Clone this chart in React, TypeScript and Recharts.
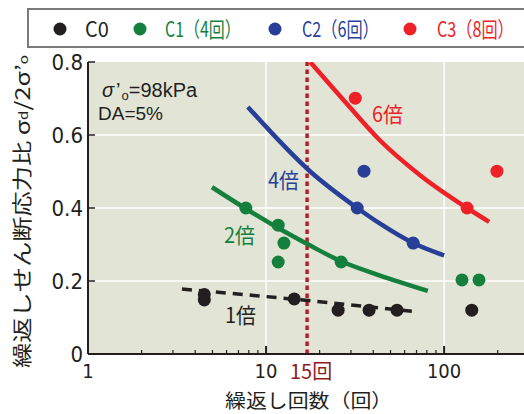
import {
  ComposedChart,
  Line,
  Scatter,
  XAxis,
  YAxis,
  ReferenceLine,
  ReferenceArea,
} from "recharts";

// measured points [cycles, stress ratio]
const c0Points = [[4.5, 0.163], [4.5, 0.148], [14.4, 0.151], [25.4, 0.12], [37.9, 0.12], [54.4, 0.12], [143, 0.12]];
const c1Points = [[7.7, 0.4], [11.7, 0.353], [12.6, 0.304], [11.7, 0.252], [26.4, 0.252], [126, 0.203], [157, 0.203]];
const c2Points = [[35.5, 0.501], [32.5, 0.4], [67, 0.304]];
const c3Points = [[31.7, 0.701], [198, 0.501], [134.6, 0.4]];

// curves
const curve1 = [[3.37, 0.178], [14.4, 0.15], [71.5, 0.115]];
const curve2 = [[4.97, 0.457], [7.7, 0.398], [11.7, 0.345], [17.7, 0.297], [26.4, 0.254], [43.7, 0.215], [81, 0.173]];
const curve4 = [[7.9, 0.677], [17.7, 0.5], [32.5, 0.4], [43.7, 0.357], [67, 0.304], [100, 0.27]];
const curve6 = [[17.7, 0.8], [28.5, 0.685], [43.7, 0.585], [73.3, 0.49], [134.6, 0.4], [179, 0.362]];

const xTicks = [1, 2, 3, 4, 5, 6, 7, 8, 9, 10, 20, 30, 40, 50, 60, 70, 80, 90, 100, 200];
const xLabels = [1, 10, 100];
const yTicks = [0, 0.2, 0.4, 0.6, 0.8];
const yLabels = ["0", "0.2", "0.4", "0.6", "0.8"];
const refCycles = 17; // dotted line as drawn (labelled 15回)

const BLACK = "#231f20";
const GREEN = "#15803d";
const BLUE = "#283f99";
const RED = "#ee2128";
const DARKRED = "#b31e27";

const NUM_FONT = "'Liberation Sans Narrow', 'DejaVu Sans Condensed', 'Noto Sans CJK JP', sans-serif";
const JP_FONT = "'Noto Sans CJK JP', sans-serif";

const toXY = (pts: number[][]) => pts.map(([n, r]) => ({ n, r }));

function BottomTick(props: any) {
  const { x, y, payload } = props;
  const v = payload.value;
  const major = xLabels.includes(v);
  return (
    <g>
      <line x1={x} x2={x} y1={y} y2={y - (major ? 8 : 4)} stroke={BLACK} strokeWidth={major ? 2 : 1.2} />
      {major && (
        <text x={x} y={y + 24} textAnchor="middle" fontSize={20} fontFamily={NUM_FONT} fill={BLACK}>
          {v}
        </text>
      )}
    </g>
  );
}

function TopTick(props: any) {
  const { x, y, payload } = props;
  const major = xLabels.includes(payload.value);
  return <line x1={x} x2={x} y1={y} y2={y + (major ? 8 : 4)} stroke={BLACK} strokeWidth={major ? 2 : 1.2} />;
}

function LeftTick(props: any) {
  const { x, y, payload } = props;
  const i = yTicks.indexOf(payload.value);
  return (
    <g>
      <line x1={x} x2={x + 7} y1={y} y2={y} stroke={BLACK} strokeWidth={1.5} />
      <text x={x - 5} y={y + 8} textAnchor="end" fontSize={22} fontFamily={NUM_FONT} fill={BLACK}>
        {yLabels[i]}
      </text>
    </g>
  );
}

function RightTick(props: any) {
  const { x, y } = props;
  return <line x1={x} x2={x - 7} y1={y} y2={y} stroke={BLACK} strokeWidth={1.5} />;
}

const dot = (color: string) => (p: any) => <circle cx={p.cx} cy={p.cy} r={6.5} fill={color} />;

const legendItems = [
  { label: "C0", color: BLACK, dx: 60, tx: 85, sx: 0.95 },
  { label: "C1（4回）", color: GREEN, dx: 140, tx: 165, sx: 0.76 },
  { label: "C2（6回）", color: BLUE, dx: 275, tx: 302, sx: 0.77 },
  { label: "C3（8回）", color: RED, dx: 410, tx: 437, sx: 0.77 },
];

function JText({ x, y, sx, size, color, children }: any) {
  return (
    <text transform={`translate(${x} ${y}) scale(${sx} 1)`} fontSize={size} fontFamily={JP_FONT} fill={color}>
      {children}
    </text>
  );
}

export default function App() {
  return (
    <div style={{ position: "absolute", left: 0, top: 0, width: 524, height: 414, background: "#fff", overflow: "hidden" }}>
      <ComposedChart width={524} height={414} margin={{ top: 62, right: 0, bottom: 0, left: 0 }}>
        <XAxis
          dataKey="n"
          type="number"
          scale="log"
          domain={[1, 281]}
          allowDataOverflow
          ticks={xTicks}
          interval={0}
          height={60}
          tickSize={0}
          tickMargin={0}
          tickLine={false}
          tick={BottomTick}
          axisLine={{ stroke: BLACK, strokeWidth: 2 }}
        />
        <XAxis
          xAxisId="top"
          orientation="top"
          type="number"
          scale="log"
          domain={[1, 281]}
          allowDataOverflow
          ticks={xTicks}
          interval={0}
          height={0}
          tickSize={0}
          tickMargin={0}
          tickLine={false}
          tick={TopTick}
          axisLine={{ stroke: BLACK, strokeWidth: 2 }}
        />
        <YAxis
          dataKey="r"
          type="number"
          domain={[0, 0.8]}
          allowDataOverflow
          ticks={yTicks}
          interval={0}
          width={88}
          tickSize={0}
          tickMargin={0}
          tickLine={false}
          tick={LeftTick}
          axisLine={{ stroke: BLACK, strokeWidth: 2 }}
        />
        <YAxis
          yAxisId="right"
          orientation="right"
          type="number"
          domain={[0, 0.8]}
          ticks={[0.2, 0.4, 0.6]}
          interval={0}
          width={0}
          tickSize={0}
          tickMargin={0}
          tickLine={false}
          tick={RightTick}
          axisLine={false}
        />
        <ReferenceArea x1={1} x2={281} y1={0} y2={0.8} fill="#e2e5d6" fillOpacity={1} stroke="none" />
        {[0.2, 0.4, 0.6].map((v) => (
          <ReferenceLine key={"h" + v} y={v} stroke="#ffffff" strokeWidth={1.5} />
        ))}
        {[10, 100].map((v) => (
          <ReferenceLine key={"v" + v} x={v} stroke="#ffffff" strokeWidth={1.5} />
        ))}
        <ReferenceLine x={refCycles} stroke={DARKRED} strokeWidth={3.5} strokeDasharray="4.5 3.5" />

        <Line data={toXY(curve1)} dataKey="r" type="monotone" stroke={BLACK} strokeWidth={3.5} strokeDasharray="10 7" dot={false} isAnimationActive={false} />
        <Line data={toXY(curve2)} dataKey="r" type="monotone" stroke={GREEN} strokeWidth={4.5} dot={false} isAnimationActive={false} />
        <Line data={toXY(curve4)} dataKey="r" type="monotone" stroke={BLUE} strokeWidth={4.5} dot={false} isAnimationActive={false} />
        <Line data={toXY(curve6)} dataKey="r" type="monotone" stroke={RED} strokeWidth={4.5} dot={false} isAnimationActive={false} />

        <Scatter data={toXY(c0Points)} dataKey="r" shape={dot(BLACK)} isAnimationActive={false} />
        <Scatter data={toXY(c1Points)} dataKey="r" shape={dot(GREEN)} isAnimationActive={false} />
        <Scatter data={toXY(c2Points)} dataKey="r" shape={dot(BLUE)} isAnimationActive={false} />
        <Scatter data={toXY(c3Points)} dataKey="r" shape={dot(RED)} isAnimationActive={false} />
      </ComposedChart>

      <svg width={524} height={414} style={{ position: "absolute", left: 0, top: 0, pointerEvents: "none" }}>
        <rect x={28} y={9} width={510} height={38} fill="#fff" stroke="#7a7a7a" strokeWidth={2} />
        {legendItems.map((it) => (
          <g key={it.label}>
            <circle cx={it.dx} cy={29} r={6.5} fill={it.color} />
            <JText x={it.tx} y={37} sx={it.sx} size={21} color={it.color}>
              {it.label}
            </JText>
          </g>
        ))}

        <text x={102} y={97} fontSize={20} fontFamily="'Liberation Sans', Arial, sans-serif" fill={BLACK}>
          <tspan fontStyle="italic">σ</tspan>
          <tspan dx={2}>’</tspan>
          <tspan fontSize={13} dy={3} dx={1}>o</tspan>
          <tspan dy={-3}>=98kPa</tspan>
        </text>
        <text x={98} y={120} fontSize={19} fontFamily="'Liberation Sans', Arial, sans-serif" fill={BLACK}>
          DA=5%
        </text>

        <JText x={372} y={122} sx={0.95} size={21} color={RED}>6倍</JText>
        <JText x={268} y={188} sx={0.95} size={21} color={BLUE}>4倍</JText>
        <JText x={224} y={243} sx={0.95} size={21} color={GREEN}>2倍</JText>
        <JText x={225} y={323} sx={0.95} size={21} color={BLACK}>1倍</JText>

        <JText x={290} y={379} sx={1} size={20} color="#8b1c24">15回</JText>
        <JText x={225} y={408} sx={1.1} size={19} color={BLACK}>繰返し回数（回）</JText>

        <g transform="translate(30 211.5) rotate(-90)">
          <text x={0} y={0} textAnchor="middle" fontSize={20} fontFamily={JP_FONT} fill={BLACK} textLength={313} lengthAdjust="spacingAndGlyphs">
            繰返しせん断応力比 σ<tspan fontSize={12} dy={-2}>d</tspan><tspan dy={2}>/2σ’</tspan><tspan fontSize={12} dy={-2}>o</tspan>
          </text>
        </g>
      </svg>
    </div>
  );
}
